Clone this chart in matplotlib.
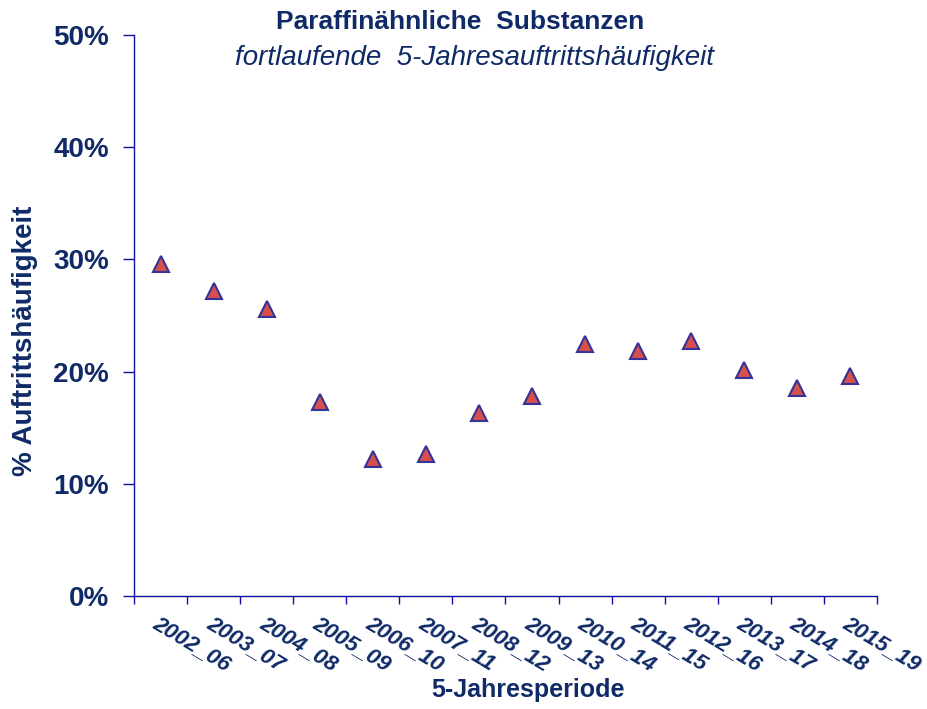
import matplotlib.pyplot as plt
from matplotlib.ticker import FuncFormatter

plt.rcParams['font.family'] = ['Liberation Sans', 'DejaVu Sans']

# 5-year rolling periods and occurrence frequency (%)
periods = ["2002_06", "2003_07", "2004_08", "2005_09", "2006_10", "2007_11", "2008_12",
           "2009_13", "2010_14", "2011_15", "2012_16", "2013_17", "2014_18", "2015_19"]
haeufigkeit = [29.6, 27.2, 25.6, 17.3, 12.2, 12.7, 16.3,
               17.8, 22.5, 21.8, 22.7, 20.1, 18.5, 19.6]

text_col = "#0f2a66"
axis_col = "#1010a0"

fig = plt.figure(figsize=(9.28, 7.09), dpi=100)
ax = fig.add_axes([0.1444, 0.1594, 0.8006, 0.7912])

x = range(len(periods))
ax.plot(x, haeufigkeit, linestyle="none", marker="^", markersize=11,
        markerfacecolor="#d64f4a", markeredgecolor="#33339a", markeredgewidth=1.5)

ax.set_xlim(-0.5, len(periods) - 0.5)
ax.set_ylim(0, 50)
ax.set_yticks([0, 10, 20, 30, 40, 50])
ax.yaxis.set_major_formatter(FuncFormatter(lambda v, p: f"{v:.0f}%"))

# ticks between categories, labels under the centers
ax.set_xticks([i - 0.5 for i in range(len(periods) + 1)])
ax.set_xticklabels([])
ax.set_xticks(list(x), minor=True)
ax.set_xticklabels(periods, minor=True, rotation=-31, ha="left", va="top",
                   rotation_mode="anchor", fontsize=16, fontweight="bold",
                   fontstyle="italic", color=text_col)
ax.tick_params(axis="x", which="minor", length=0, pad=12)
ax.tick_params(axis="x", which="major", length=6, width=1, color=axis_col, direction="out")
ax.tick_params(axis="y", length=8, width=1, color=axis_col, direction="out",
               labelsize=20, labelcolor=text_col, pad=10)
for lab in ax.get_yticklabels():
    lab.set_fontweight("bold")

for side in ["top", "right"]:
    ax.spines[side].set_visible(False)
for side in ["left", "bottom"]:
    ax.spines[side].set_color(axis_col)
    ax.spines[side].set_linewidth(1)

fig.text(0.496, 0.969, "Paraffinähnliche  Substanzen", ha="center", va="center",
         fontsize=19, fontweight="bold", color=text_col)
fig.text(0.511, 0.918, "fortlaufende  5-Jahresauftrittshäufigkeit", ha="center", va="center",
         fontsize=20, fontstyle="italic", color=text_col)

fig.text(0.569, 0.027, "5-Jahresperiode", ha="center", va="center",
         fontsize=18, fontweight="bold", color=text_col)
fig.text(0.027, 0.52, "% Auftrittshäufigkeit", ha="center", va="center", rotation=90,
         fontsize=20, fontweight="bold", color=text_col)

fig.savefig("out.png", dpi=100, facecolor="white")
